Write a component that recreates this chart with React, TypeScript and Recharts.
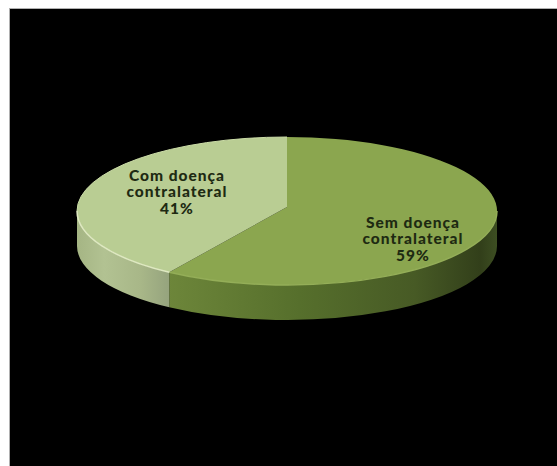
import { Pie, PieChart } from "recharts";

const categories = ["Sem doença contralateral", "Com doença contralateral"];
const shares = [59, 41];
const labelLines = [
  ["Sem doença", "contralateral", "59%"],
  ["Com doença", "contralateral", "41%"],
];

const topColors = ["#8ba64f", "#b9cd93"];
const wallFills = ["url(#wallSem)", "url(#wallCom)"];
const labelCentres = [
  { x: 413, y: 239 },
  { x: 177, y: 192 },
];

const WIDTH = 557;
const HEIGHT = 466;
const CX = 287;
const CY = 211;
const RX = 210;
const RY = 74;
const DEPTH = 35;
// how far the vanishing perspective lifts the pie's centre, as a share of RY
const TILT = 4 / 74;

const data = categories.map((name, i) => ({ name, value: shares[i] }));

// point on the tilted rim for a polar angle in degrees, in perspective so the
// nearer half of the disc takes up more of the ellipse
const rim = (cx: number, cy: number, rx: number, angle: number) => {
  const rad = (angle * Math.PI) / 180;
  const s = Math.sin(rad);
  const c = Math.cos(rad);
  const w = 1 + TILT * s;
  return {
    x: cx + (rx * c * Math.sqrt(1 - TILT * TILT)) / w,
    y: cy - (rx * (RY / RX) * (s + TILT)) / w,
  };
};

function TiltedSlice(props: any) {
  const { cx, cy, outerRadius, startAngle, endAngle, index } = props;
  const ry = outerRadius * (RY / RX);
  const a = rim(cx, cy, outerRadius, startAngle);
  const b = rim(cx, cy, outerRadius, endAngle);
  const large = Math.abs(startAngle - endAngle) > 180 ? 1 : 0;
  const apexY = cy - ry * TILT;
  const top = `M${cx},${apexY} L${a.x},${a.y} A${outerRadius},${ry} 0 ${large} 1 ${b.x},${b.y} Z`;

  // only the part of the rim facing the viewer gets a wall
  const w1 = { x: index === 0 ? cx + outerRadius : a.x, y: index === 0 ? cy : a.y };
  const w2 = { x: index === 0 ? b.x : cx - outerRadius, y: index === 0 ? b.y : cy };
  const wall = `M${w1.x},${w1.y} A${outerRadius},${ry} 0 0 1 ${w2.x},${w2.y} L${w2.x},${w2.y + DEPTH} A${outerRadius},${ry} 0 0 0 ${w1.x},${w1.y + DEPTH} Z`;
  const edge = `M${w1.x},${w1.y} A${outerRadius},${ry} 0 0 1 ${w2.x},${w2.y}`;
  const upperEdge = `M${cx - outerRadius},${cy} A${outerRadius},${ry} 0 0 1 ${cx},${cy - ry}`;

  return (
    <g>
      <path d={wall} fill={wallFills[index]} />
      <path d={top} fill={topColors[index]} />
      <path
        d={edge}
        fill="none"
        stroke={index === 1 ? "#dfe9c2" : "#94ae58"}
        strokeWidth={1.5}
      />
      {index === 1 && (
        <path d={upperEdge} fill="none" stroke="#cadba6" strokeWidth={1} />
      )}
    </g>
  );
}

function SliceLabel({ index }: any) {
  const centre = labelCentres[index];
  return (
    <text
      x={centre.x}
      y={centre.y}
      textAnchor="middle"
      fontFamily="Lato, sans-serif"
      fontWeight={900}
      fontSize={15.5}
      letterSpacing={1}
      fill="#1e2a12"
    >
      {labelLines[index].map((line, i) => (
        <tspan key={line} x={centre.x} y={centre.y + (i - 1) * 16.5 + 5}>
          {line}
        </tspan>
      ))}
    </text>
  );
}

export default function App() {
  return (
    <div
      style={{
        position: "absolute",
        left: 0,
        top: 0,
        width: WIDTH,
        height: HEIGHT,
        background: "#fff",
        overflow: "hidden",
      }}
    >
      <div
        style={{
          position: "absolute",
          left: 9,
          top: 8,
          right: 0,
          bottom: 0,
          background: "#000",
          borderLeft: "1px solid #b0b0b0",
          borderTop: "1px solid #b0b0b0",
        }}
      />
      <div style={{ position: "absolute", left: 0, top: 0 }}>
        <PieChart
          width={WIDTH}
          height={HEIGHT}
          margin={{ top: 0, right: 0, bottom: 0, left: 0 }}
        >
          <defs>
            <linearGradient id="wallSem" gradientUnits="userSpaceOnUse" x1={168} x2={497} y1={0} y2={0}>
              <stop offset="0" stopColor="#6d863a" />
              <stop offset="0.4" stopColor="#566f2c" />
              <stop offset="0.75" stopColor="#475a25" />
              <stop offset="0.95" stopColor="#323f1a" />
              <stop offset="1" stopColor="#3d4e22" />
            </linearGradient>
            <linearGradient id="wallCom" gradientUnits="userSpaceOnUse" x1={77} x2={168} y1={0} y2={0}>
              <stop offset="0" stopColor="#a5b584" />
              <stop offset="0.3" stopColor="#b2c292" />
              <stop offset="0.7" stopColor="#a8b788" />
              <stop offset="1" stopColor="#96a47e" />
            </linearGradient>
          </defs>
          <Pie
            data={data}
            dataKey="value"
            nameKey="name"
            cx={CX}
            cy={CY}
            innerRadius={0}
            outerRadius={RX}
            startAngle={90}
            endAngle={-270}
            stroke="none"
            shape={TiltedSlice}
            label={SliceLabel}
            labelLine={false}
            isAnimationActive={false}
          />
        </PieChart>
      </div>
    </div>
  );
}
